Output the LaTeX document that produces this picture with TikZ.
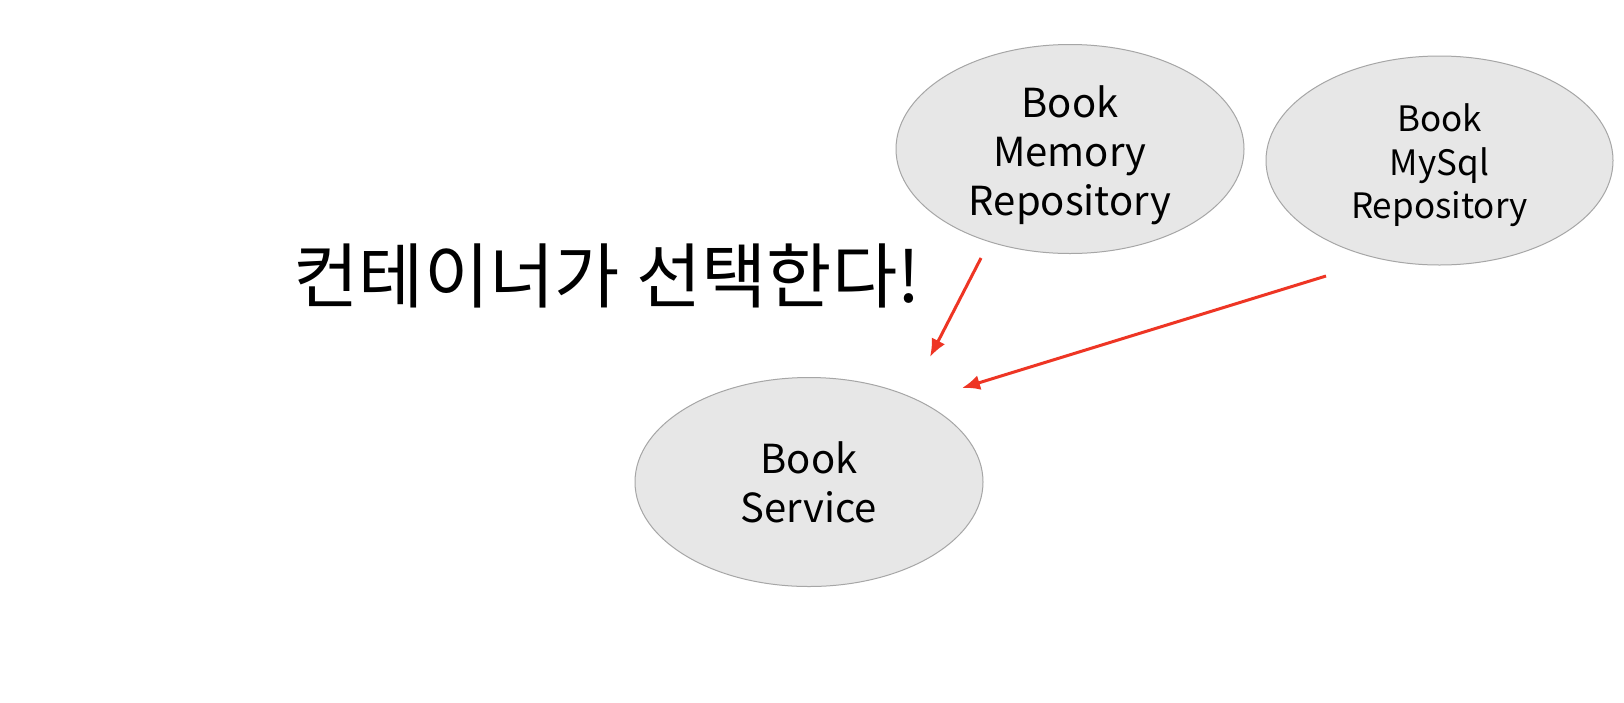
\documentclass[tikz,border=0pt]{standalone}
\usepackage{fontspec}
\setmainfont{Noto Sans CJK KR}
\usetikzlibrary{shapes.geometric,arrows.meta}
\definecolor{ellfill}{HTML}{E7E7E7}
\definecolor{elldraw}{HTML}{A6A6A6}
\definecolor{arrred}{HTML}{EE3524}
\tikzset{
  bubble/.style={ellipse, draw=elldraw, line width=1pt, fill=ellfill, inner sep=0pt,
    minimum width=348pt, minimum height=209pt},
  bubbletext/.style={align=center, text=black, inner sep=0pt},
  redarrow/.style={draw=arrred, line width=3pt, -{Latex[length=18pt,width=15pt]}},
}
\begin{document}
\begin{tikzpicture}[x=1pt,y=-1pt]
\useasboundingbox (0,0) rectangle (1624,702);
\fill[white] (0,0) rectangle (1624,702);
\node[bubble] (mem) at (1070,149) {};
\node[bubbletext, font=\fontsize{40}{49}\selectfont, yshift=-6pt] (memt) at (mem.center) {Book\\Memory\\Repository};
\node[bubble, minimum width=347pt] (sql) at (1439.5,160.5) {};
\node[bubbletext, font=\fontsize{35}{43.5}\selectfont, yshift=-5pt] (sqlt) at (sql.center) {Book\\MySql\\Repository};
\node[bubble] (svc) at (809,482) {};
\node[bubbletext, font=\fontsize{40}{49}\selectfont] (svct) at (svc.center) {Book\\Service};
\node[font=\fontsize{71}{80}\selectfont] (title) at (607,276) {컨테이너가 선택한다!};
\coordinate (a1s) at (981,258);
\coordinate (a1e) at (930,357);
\coordinate (a2s) at (1326,276);
\coordinate (a2e) at (962,388);
\draw[redarrow] (a1s) -- (a1e);
\draw[redarrow] (a2s) -- (a2e);
\end{tikzpicture}
\end{document}
